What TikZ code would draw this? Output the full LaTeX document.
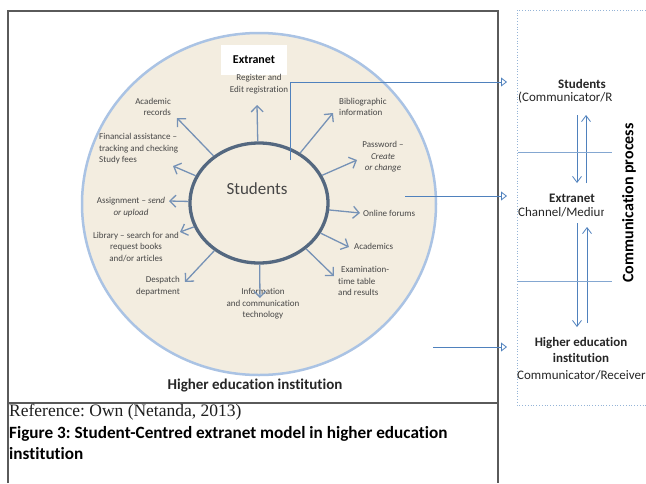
\documentclass[tikz,border=0pt]{standalone}
\usepackage{fontspec}
\setmainfont{Carlito}[Ligatures={NoCommon}]
\newfontfamily\refserif{Liberation Serif}
\usetikzlibrary{shapes.geometric,arrows.meta}
\frenchspacing

\definecolor{discfill}{RGB}{243,237,224}
\definecolor{discedge}{RGB}{170,195,228}
\definecolor{ringedge}{RGB}{84,104,128}
\definecolor{spokeblue}{RGB}{118,146,182}
\definecolor{linkblue}{RGB}{79,129,189}
\definecolor{framegray}{RGB}{90,90,90}
\definecolor{labelgray}{RGB}{70,70,70}

\begin{document}
\begin{tikzpicture}
	[x=1pt,y=-1pt,
	 disc/.style={ellipse,draw=discedge,line width=2.5pt,fill=discfill},
	 ring/.style={ellipse,draw=ringedge,line width=3.3pt,fill=discfill},
	 spoke/.style={draw=spokeblue,line width=1.3pt,-{Straight Barb[length=6pt,width=12pt]}},
	 link/.style={draw=linkblue,line width=0.8pt,-{Triangle[open,length=6pt,width=9pt]}},
	 flow/.style={draw=linkblue,line width=0.8pt,-{Straight Barb[length=6pt,width=9pt]}},
	 divider/.style={draw=linkblue!70,line width=0.6pt},
	 lbl/.style={font=\fontsize{9}{11.5}\selectfont,text=labelgray,inner sep=0pt,align=center},
	 side/.style={font=\fontsize{13}{15.5}\selectfont,text=black!85,inner sep=0pt,align=center}]

	\useasboundingbox (0,0) rectangle (646,483);
	\fill[white] (0,0) rectangle (646,483);

	% frame and process box
	\draw[framegray,line width=1.3pt] (8,483) -- (8,11) -- (498,11) -- (498,483);
	\draw[framegray,line width=1.1pt] (8,403) -- (498,403);
	\draw[linkblue!60,dotted,line width=0.8pt] (646,10) -- (517,10) -- (517,405) -- (646,405);

	% institution and students
	\node[disc,minimum width=354pt,minimum height=342pt] (hei) at (259,204) {};
	\node[ring,minimum width=138pt,minimum height=120pt] (stud) at (259,203) {};
	\node[font=\fontsize{17}{20}\selectfont,text=labelgray] (studlbl) at (257,189) {Students};
	\node[fill=white,minimum width=66pt,minimum height=30pt,font=\bfseries\fontsize{12}{14}\selectfont] (extr) at (254,60) {Extranet};

	% services
	\node[lbl] (reg) at (259,84) {Register and\\Edit registration};
	\node[lbl,anchor=east,align=right] (acadrec) at (171,107) {Academic\\records};
	\node[lbl,anchor=west,align=left] (fin) at (99,149) {Financial assistance --\\tracking and checking\\Study fees};
	\node[lbl] (assign) at (131,207) {Assignment -- \textit{send}\\\textit{or upload}};
	\node[lbl] (library) at (136,247) {Library -- search for and\\request books\\and/or articles};
	\node[lbl,anchor=east,align=right] (despatch) at (180,286) {Despatch\\department};
	\node[lbl] (ict) at (263,304) {Information\\and communication\\technology};
	\node[lbl,anchor=west,align=left] (exam) at (338,281) {\hspace*{3pt}Examination-\\time table\\and results};
	\node[lbl,anchor=west] (acad) at (354,246) {Academics};
	\node[lbl,anchor=west] (forum) at (363,213) {Online forums};
	\node[lbl] (passw) at (383,157) {Password --\\\textit{Create}\\\textit{or change}};
	\node[lbl,anchor=west,align=left] (biblio) at (339,107) {Bibliographic\\information};

	\coordinate (treg) at (257,105);
	\coordinate (tacadrec) at (177,118);
	\coordinate (tfin) at (173,166);
	\coordinate (tassign) at (169,201);
	\coordinate (tlibrary) at (180,232);
	\coordinate (tdespatch) at (185,282);
	\coordinate (tict) at (260,298);
	\coordinate (texam) at (334,276);
	\coordinate (tacad) at (349,247);
	\coordinate (tforum) at (360,213);
	\coordinate (tpassw) at (357,160);
	\coordinate (tbiblio) at (333,113);

	\foreach \t in {treg,tacadrec,tfin,tassign,tlibrary,tdespatch,tict,texam,tacad,tforum,tpassw,tbiblio}
		\draw[spoke] (stud) -- (\t);

	% links to the process
	\coordinate (linkA) at (290,160);
	\coordinate (endA) at (507,82);
	\coordinate (linkB) at (405,196);
	\coordinate (endB) at (507,196);
	\coordinate (linkC) at (433,347);
	\coordinate (endC) at (507,347);
	\draw[link] (linkA) |- (endA);
	\draw[link] (linkB) -- (endB);
	\draw[link] (linkC) -- (endC);

	% communication process
	\node[side,font=\bfseries\fontsize{13}{15.5}\selectfont] (rstud) at (582,84) {Students};
	\node[side,anchor=west] (rstudrole) at (518,98) {(Communicator/R};
	\node[side,font=\bfseries\fontsize{13}{15.5}\selectfont] (rext) at (572,198) {Extranet};
	\begin{scope}
		\clip (515,204) rectangle (603,222);
		\node[side,anchor=west] (rextrole) at (518,212) {Channel/Medium};
	\end{scope}
	\node[side,font=\bfseries\fontsize{13}{15.5}\selectfont] (rhei) at (581,350) {Higher education\\institution};
	\node[side,anchor=west] (rheirole) at (517,375) {Communicator/Receiver};
	\node[rotate=90,font=\bfseries\fontsize{16}{18}\selectfont] (comproc) at (629,203) {Communication process};

	\coordinate (dnA) at (577,115);
	\coordinate (dnB) at (577,183);
	\coordinate (upA) at (586,183);
	\coordinate (upB) at (586,115);
	\coordinate (dnC) at (577,223);
	\coordinate (dnD) at (577,327);
	\coordinate (upC) at (587,323);
	\coordinate (upD) at (587,227);
	\draw[flow] (dnA) -- (dnB);
	\draw[flow] (upA) -- (upB);
	\draw[flow] (dnC) -- (dnD);
	\draw[flow] (upC) -- (upD);
	\draw[divider] (518,152) -- (612,152);
	\draw[divider] (518,281) -- (612,281);

	% captions
	\node[anchor=base,font=\bfseries\fontsize{15}{17}\selectfont,text=black!85] (heilbl) at (255,389) {Higher education institution};
	\node[anchor=base west,inner sep=0pt,font=\refserif\fontsize{17.5}{20}\selectfont,text=black!88] (ref) at (9,416) {Reference: Own (Netanda, 2013)};
	\node[anchor=base west,inner sep=0pt,font=\bfseries\fontsize{17.2}{20}\selectfont] (figcap) at (9,438) {Figure 3: Student-Centred extranet model in higher education};
	\node[anchor=base west,inner sep=0pt,font=\bfseries\fontsize{17.2}{20}\selectfont] (figcaptwo) at (9,459) {institution};

\end{tikzpicture}
\end{document}
